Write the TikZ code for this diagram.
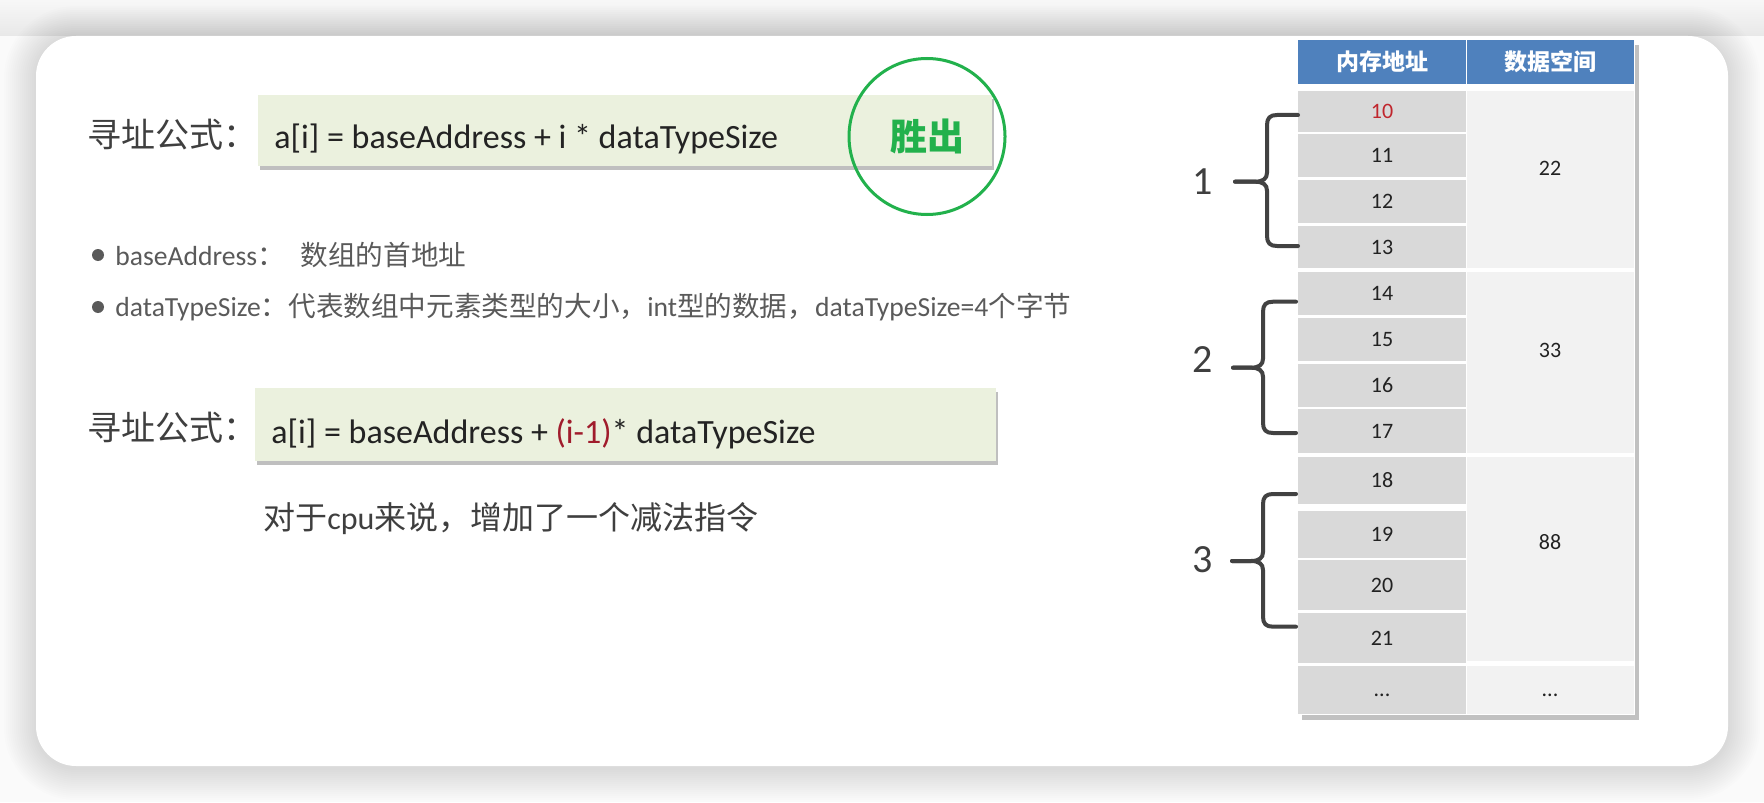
\documentclass[tikz,border=0pt]{standalone}
\usepackage{fontspec}
\setmainfont{Carlito}
\newfontfamily\cjk{Noto Sans CJK SC}
\usetikzlibrary{shadows}
\definecolor{boxfill}{HTML}{EBF1DE}
\definecolor{labelgray}{HTML}{3F3F3F}
\definecolor{formtext}{HTML}{232323}
\definecolor{darkred}{HTML}{A01C2C}
\definecolor{bulgray}{HTML}{5A5A5A}
\definecolor{wingreen}{HTML}{22B14C}
\definecolor{hdrblue}{HTML}{4F81BD}
\definecolor{lcellc}{HTML}{D9D9D9}
\definecolor{rcellc}{HTML}{F2F2F2}
\definecolor{numtext}{HTML}{222222}
\definecolor{numred}{HTML}{C0262D}
\definecolor{bracec}{HTML}{424242}
\newcommand\myLcell[4]{\fill[lcellc] (1298,#2) rectangle (1466,#3);
  \node[num] (#1) at (1382,{(#2+#3)/2}) {#4};}
\newcommand\myBrace[6]{%
  \draw[bracestyle] (#1,#2) -- ({#3+10},#2) .. controls ({#3+3},#2) and (#3,{#2+3}) .. (#3,{#2+10})
    -- (#3,{#4-9}) .. controls (#3,{#4-3}) and ({#3-4},#4) .. ({#3-12},#4) -- (#5,#4);
  \draw[bracestyle] (#5,#4) -- ({#3-12},#4) .. controls ({#3-4},#4) and (#3,{#4+3}) .. (#3,{#4+9})
    -- (#3,{#6-10}) .. controls (#3,{#6-3}) and ({#3+3},#6) .. ({#3+10},#6) -- (#1,#6);}
\begin{document}
\begin{tikzpicture}[x=0.5pt,y=-0.5pt,
  label/.style={anchor=west, inner sep=0pt, text=labelgray, font=\cjk\fontsize{17pt}{20pt}\selectfont},
  formula/.style={anchor=base west, inner sep=0pt, text=formtext, font=\fontsize{17pt}{20pt}\selectfont},
  fbox/.style={fill=boxfill, anchor=north west, inner sep=0pt,
     drop shadow={shadow xshift=1pt, shadow yshift=-2pt, opacity=0.45, fill=black!55}},
  bullet/.style={anchor=west, inner sep=0pt, text=bulgray, font=\fontsize{13.8pt}{17pt}\selectfont},
  dot/.style={circle, fill=bulgray, inner sep=0pt, minimum size=6pt},
  cputext/.style={anchor=west, inner sep=0pt, text=labelgray, font=\fontsize{16pt}{19pt}\selectfont},
  win/.style={circle, draw=wingreen, line width=1.5pt, minimum size=78pt, inner sep=0pt,
     text=wingreen, font=\cjk\bfseries\fontsize{18.5pt}{21pt}\selectfont},
  hdr/.style={text=white, inner sep=0pt, font=\cjk\bfseries\fontsize{11.5pt}{14pt}\selectfont},
  num/.style={text=numtext, inner sep=0pt, font=\fontsize{11pt}{13pt}\selectfont},
  bnum/.style={text=labelgray, inner sep=0pt, font=\fontsize{20pt}{24pt}\selectfont},
  bracestyle/.style={draw=bracec, line width=2pt, line cap=round, line join=round}
]
\useasboundingbox (0,0) rectangle (1764,802);
% background
\fill[white!98!black] (0,0) rectangle (1764,802);
\shade[top color=white!97!black, bottom color=white!91!black] (0,0) rectangle (1764,36);
\foreach \k in {1,...,16}{
  \pgfmathsetmacro\rc{20+\k}
  \fill[black, opacity=0.008, rounded corners=\rc pt] ({36-2*\k},{36-2*\k+2}) rectangle ({1728+2*\k},{766+2*\k+2});
}
\fill[white, rounded corners=20pt] (36,36) rectangle (1728,766);

% formula 1
\node[label] (lab1) at (87,135) {寻址公式：};
\node[fbox, minimum width=367pt, minimum height=35.5pt] (box1) at (258,95) {};
\node[formula] (f1) at (274,149) {a[i] = baseAddress + i * dataTypeSize};
\node[win] (winner) at (927,136.5) {胜出};

% bullets
\node[dot] (d1) at (98,255) {};
\node[bullet] (b1) at (115,255) {baseAddress{\cjk ：}\hspace{8pt}{\cjk 数组的首地址}};
\node[dot] (d2) at (98,307) {};
\node[bullet] (b2) at (115,307) {dataTypeSize{\cjk ：代表数组中元素类型的大小，}int{\cjk 型的数据，}dataTypeSize=4{\cjk 个字节}};

% formula 2
\node[label] (lab2) at (87,428) {寻址公式：};
\node[fbox, minimum width=370.5pt, minimum height=36.5pt] (box2) at (255,388) {};
\node[formula] (f2) at (271,443) {a[i] = baseAddress + \textcolor{darkred}{(i-1)}* dataTypeSize};
\node[cputext] (cpu) at (263,519) {{\cjk 对于}cpu{\cjk 来说，增加了一个减法指令}};

% table
\fill[white, drop shadow={shadow xshift=2pt, shadow yshift=-2.5pt, opacity=0.4, fill=black!60}] (1298,40) rectangle (1635,715);
\fill[hdrblue] (1298,40) rectangle (1465.5,84);
\fill[hdrblue] (1467,40) rectangle (1634,84);
\node[hdr] (h1) at (1382,62) {内存地址};
\node[hdr] (h2) at (1550,62) {数据空间};

\myLcell{r10}{91}{132}{\textcolor{numred}{10}}
\myLcell{r11}{134}{177}{11}
\myLcell{r12}{180}{223}{12}
\myLcell{r13}{226}{268}{13}
\myLcell{r14}{272}{315}{14}
\myLcell{r15}{318}{361}{15}
\myLcell{r16}{364}{407}{16}
\myLcell{r17}{409}{453}{17}
\myLcell{r18}{457}{504}{18}
\myLcell{r19}{511}{558}{19}
\myLcell{r20}{560}{610}{20}
\myLcell{r21}{613}{663}{21}
\fill[lcellc] (1298,666) rectangle (1466,714);
\node[num] (rdots) at (1382,695) {...};

\fill[rcellc] (1467,91) rectangle (1634,268);
\fill[rcellc] (1467,272) rectangle (1634,453);
\fill[rcellc] (1467,457) rectangle (1634,661);
\fill[rcellc] (1467,666) rectangle (1634,714);
\node[num] (g1) at (1550,168) {22};
\node[num] (g2) at (1550,350) {33};
\node[num] (g3) at (1550,542) {88};
\node[num] (gdots) at (1550,695) {...};

% braces
\myBrace{1298}{115}{1267}{181.7}{1235}{246}
\myBrace{1296}{301.7}{1263}{367.7}{1233}{433}
\myBrace{1296}{494}{1263}{561}{1232}{626.7}
\node[bnum] (n1) at (1203,181.7) {1};
\node[bnum] (n2) at (1203,360) {2};
\node[bnum] (n3) at (1203,560) {3};
\end{tikzpicture}
\end{document}
